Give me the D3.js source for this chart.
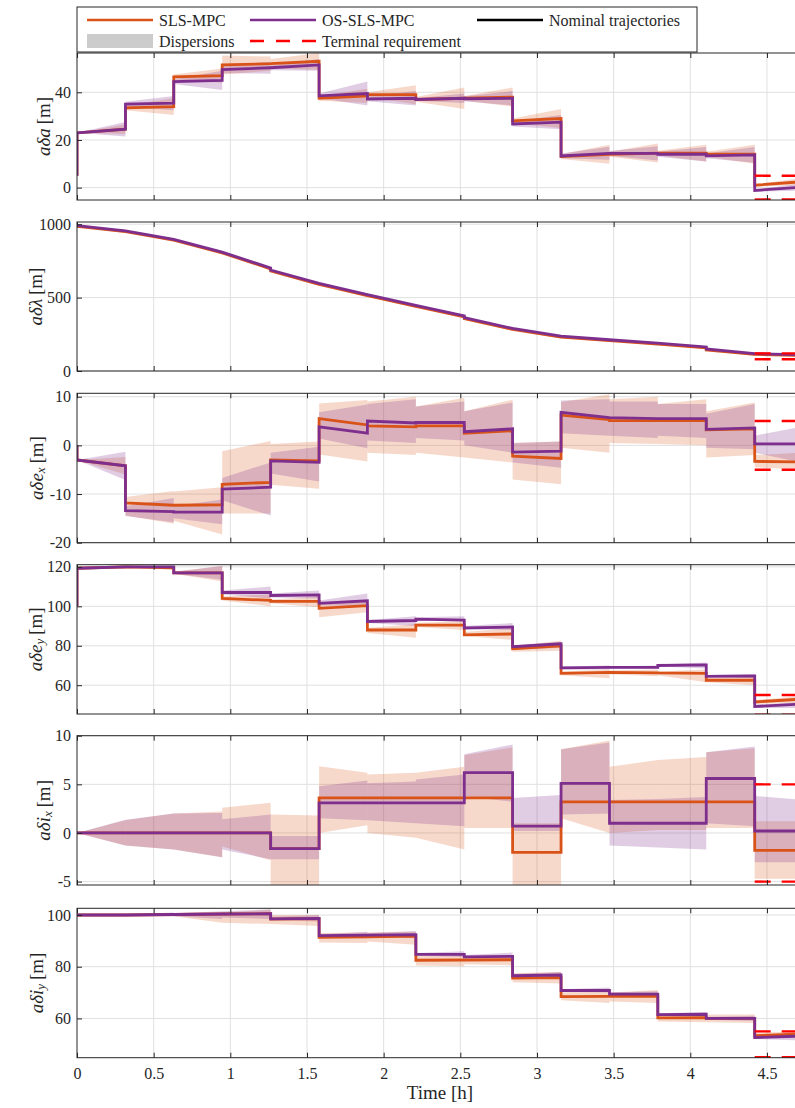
<!DOCTYPE html>
<html>
<head>
<meta charset="utf-8">
<script src="https://cdn.jsdelivr.net/npm/d3@7"></script>
<style>
  body { margin: 0; background: #fff; }
  svg text { font-family: "Liberation Serif", "Times New Roman", serif; fill: #262626; }
</style>
</head>
<body>
<div id="svgRoot"></div>
<script>
// maneuver times [h]
const segT = [0, 0.316, 0.631, 0.947, 1.263, 1.579, 1.894, 2.21, 2.526, 2.841, 3.157, 3.473, 3.788, 4.104, 4.42, 4.735];
const timeTicks = [0, 0.5, 1, 1.5, 2, 2.5, 3, 3.5, 4, 4.5];

// a*delta a  — lines [start, end] per segment, bands [lo0, hi0, lo1, hi1]
const daInit = 5;
const daSls = [[23,24.5],[33.5,34],[46.5,47],[51.5,52],[52,53],[37.5,38.5],[39,39],[37,37.5],[37.5,38],[28,29],[13,14],[14,14.5],[14.5,14.5],[14,14],[1,2.5]];
const daOs  = [[23,24.5],[35,35.5],[44.5,45],[49.5,50.3],[50.3,51.5],[38.5,39.5],[37.2,37.5],[37,37.5],[37.3,37.5],[26.7,27.5],[13.3,14.4],[14.4,14.4],[14,14],[13.3,13.7],[-1.2,0.2]];
const daSlsBand = [[23,23,22.5,26.5],[32.5,34.5,30.5,37.5],[45.5,47.5,44,50],[47.5,55.5,49,55],[50,54,49.5,56.5],[36.5,38.5,35.5,41.5],[38,40,35,43],[36,38,33,42],[36.5,38.5,34,42],[27,29,25,33],[12,14,10,18],[13,15,10.5,18.5],[13.5,15.5,11,18],[13,15,10,18],[0.5,1.5,1,4]];
const daOsBand  = [[23,23,21.5,27.5],[34,36,32.5,38.5],[43.5,45.5,41,49],[48,51,47.8,52.8],[49.3,51.3,49,54],[37.5,39.5,34.5,44.5],[36.2,38.2,34.5,40.5],[36.5,37.5,35.5,39.5],[36.3,38.3,34.5,40.5],[25.7,27.7,24.5,30.5],[12.3,14.3,11.7,17.1],[13.4,15.4,11.4,17.4],[13,15,11,17],[12.3,14.3,10.4,17],[-1.7,-0.7,-1.3,1.7]];

// a*delta lambda
const dlSls = [[986,950],[950,891],[891,804],[804,696],[682,590],[590,513],[513,440],[440,369],[357,283],[283,231],[231,207],[207,184],[184,158],[144,113],[113,106]];
const dlOs  = [[990,955],[955,896],[896,810],[810,702],[688,597],[597,520],[520,447],[447,376],[364,290],[290,238],[238,213],[213,190],[190,164],[150,118],[118,110]];
const dlSlsBand = [[983,989,940,956],[947,953,881,897],[888,894,794,810],[801,807,686,702],[679,685,580,596],[587,593,503,519],[510,516,430,446],[437,443,359,375],[354,360,273,289],[280,286,221,237],[228,234,197,213],[204,210,174,190],[181,187,148,164],[141,147,103,119],[110,116,98,112]];
const dlOsBand  = [[988,992,949,961],[953,957,890,902],[894,898,804,816],[808,812,696,708],[686,690,591,603],[595,599,514,526],[518,522,441,453],[445,449,370,382],[362,366,284,296],[288,292,232,244],[236,240,207,219],[211,215,184,196],[188,192,158,170],[148,152,112,124],[116,120,104,116]];

// a*delta e_x
const dexInit = 0;
const dexSls = [[-3,-4.2],[-11.8,-12.3],[-12.3,-12.2],[-8,-7.6],[-3,-3.2],[5.5,4.2],[4,3.8],[4,4],[2.5,3],[-2.2,-2.7],[6.2,5.3],[5.1,5.1],[5.1,5.1],[3.2,3.4],[-3.3,-3.4]];
const dexOs  = [[-3,-4.2],[-13.4,-13.6],[-13.7,-13.7],[-9,-8.6],[-3.2,-3.5],[3.8,2.5],[5,4.6],[4.7,4.7],[2.8,3.4],[-1.4,-1.2],[6.8,5.7],[5.7,5.5],[5.5,5.5],[3.3,3.6],[0.3,0.3]];
const dexSlsBand = [[-3,-3,-6,-2.4],[-14.4,-10.6,-16.1,-9.4],[-15.5,-9.5,-18.3,-8.6],[-14,-1.2,-14,0.9],[-8.1,0.3,-8.9,0.8],[-1.9,8.6,-3.3,9.3],[-1.5,9,-2,10],[-1.5,8,-2.5,9.8],[-2.5,7,-3.5,9.4],[-7,0.5,-8,0.8],[-0.5,8.9,-1.5,10.5],[0.5,9.5,0.3,10],[0.3,8.5,0,9.5],[-2.5,7,-2,8.8],[-4.5,-2,-5,-1.5]];
const dexOsBand  = [[-3,-3,-7.1,-1.3],[-14.5,-12.5,-15.8,-10.8],[-15,-12.5,-16.2,-11.1],[-11.3,-6.7,-14.4,-3.5],[-5.8,-1.5,-7.4,-0.3],[1.4,6.8,-0.6,8.4],[1,8.5,0.5,9.5],[1.5,8,1,9],[0,7,-1.5,8.8],[-3.5,0.5,-4.6,0.8],[2.5,9.2,2,9.5],[2,9,1.5,9],[2,8.5,1.5,8.5],[-0.5,6.5,-0.8,8.5],[-1.5,2,-3.6,3.9]];

// a*delta e_y
const deyInit = 100;
const deySls = [[119.3,120],[120,119.5],[117,117],[104,103],[102.5,102.5],[99,100.3],[88,88],[90.5,90.5],[85.5,86],[78.5,80],[66,66.5],[66.5,66.3],[66.2,66],[62.5,62.5],[51.5,53]];
const deyOs  = [[119.3,120],[120,120],[117,117],[107,107],[105.5,105.8],[101.5,102.8],[92.3,92.8],[93.5,93],[89,89.5],[79.5,81],[68.8,69],[69,69],[70,70.3],[64.5,64.7],[49.2,50.5]];
const deySlsBand = [[119,119.6,119.3,120.5],[119.5,120.3,118.5,120.5],[116.5,117.5,112.6,120.5],[103,105,100,106],[101.5,103.5,99.5,105],[94.5,101,97,103],[86.5,89,84,91],[89.5,91.5,88,92.5],[85,87,83,89],[77,80,77.5,82.5],[65,67,63.5,68],[65.5,67.5,64.5,68],[65,67,61.5,68],[61.5,63.5,60,64.5],[50.5,52.5,51,54.5]];
const deyOsBand  = [[119,119.6,119.3,120.5],[119.7,120.3,119,120.7],[116.5,117.5,113.5,120.5],[106,108,104,110],[104.5,106.5,104,108],[100.5,103,100,106.5],[91.5,93,90,95],[92.5,94.5,92.5,95],[88.5,90,88,91.5],[78,80,79,82],[68,69.5,68,70],[68.5,69.5,68.5,70],[69.5,70.5,68.5,71.5],[64,65.2,63.5,65.5],[48.5,50,48.5,51.5]];

// a*delta i_x
const dixSls = [[0,0],[0,0],[0,0],[0,0],[-1.6,-1.6],[3.6,3.6],[3.6,3.6],[3.6,3.6],[3.6,3.6],[-2,-2],[3.2,3.2],[3.2,3.2],[3.2,3.2],[3.2,3.2],[-1.8,-1.8]];
const dixOs  = [[0,0],[0,0],[0,0],[0,0],[-1.6,-1.6],[3.1,3.1],[3.1,3.1],[3.1,3.1],[6.2,6.2],[0.7,0.7],[5.1,5.1],[1,1],[1,1],[5.6,5.6],[0.2,0.2]];
const dixSlsBand = [[0,0,-1.3,1.3],[-1.3,1.3,-1.7,2],[-1.7,2,-2.5,2.2],[-1.4,2.6,-2.8,3.1],[-5.5,1.9,-5.5,1.8],[0,6.85,0.8,6.2],[0,6,-0.5,6.2],[-0.5,6.2,-1.7,6.8],[0.5,8,0.5,8.8],[-5.5,1,-5.5,1],[1.5,8.6,0,9.5],[0,6.8,0.3,7.5],[0.3,7.5,0.3,7.8],[0.5,8.3,0.5,8.7],[-4.7,1.2,-4.7,1.2]];
const dixOsBand  = [[0,0,-1.3,1.37],[-1.3,1.37,-1.7,2],[-1.7,2,-2.5,2.05],[-1.7,1.4,-2.7,1.9],[-2.7,-0.3,-2.7,-0.3],[1.5,4.8,1.3,5.4],[1.3,5.1,1,5.3],[1,5.5,0.7,6],[3.8,8.1,3.2,9.1],[0.2,3.6,0.2,3.9],[1.9,8.6,2,9.3],[-1.3,3.4,-1.5,3.5],[-1.5,3.5,-1.7,3.7],[1,8.3,0.7,8.9],[-3,3.8,-3,3.4]];

// a*delta i_y
const diySls = [[100,100],[100,100.2],[100.2,100.4],[100.4,100.5],[98.4,98.6],[91.4,91.6],[91.6,91.8],[82.5,82.6],[82.6,82.7],[75.6,75.8],[68.4,68.5],[68.5,68.6],[60.2,60.3],[60,60],[53.3,54]];
const diyOs  = [[100,100],[100,100.2],[100.2,100.4],[100.4,100.5],[98.5,98.7],[92,92.2],[92.2,92.4],[84.8,84.8],[83.8,84],[76.5,76.8],[70.8,70.8],[69.4,69.4],[61.5,61.6],[60,60],[52.6,53.2]];
const diySlsBand = [[100,100,99.8,100.2],[99.8,100.2,99.5,100.5],[99.5,100.6,97,100.8],[97,101,96.5,102],[96.5,100,95.8,100],[89.4,93,89.2,93.2],[89.8,93.2,88.5,93.5],[80.5,84.2,80.2,84.5],[81,84,80.5,84.5],[74,77.5,73.5,78],[67,70,66,71],[66.5,70,66,71],[58.8,61.8,58.5,62],[58.5,61.5,58.2,61.5],[52.5,54.5,52.8,55]];
const diyOsBand  = [[100,100,99.8,100.2],[99.8,100.2,99.5,101],[99.5,100.7,98.5,101.5],[99,101.5,98.5,102.2],[98,99.3,97.5,100],[91.5,92.6,91,93.5],[91.5,93,91,93.8],[84.2,85.3,83.8,86],[83.3,84.5,83,85.5],[76,77.2,75.5,78],[70.3,71.3,70,72],[69,70,68.5,70.5],[61,62,60.5,62.5],[59.5,60.5,59,61],[52,53.2,51.5,54]];

// y tick labels and terminal requirement bounds
const daTicks = [0, 20, 40], dlTicks = [0, 500, 1000], dexTicks = [-20, -10, 0, 10];
const deyTicks = [60, 80, 100, 120], dixTicks = [-5, 0, 5, 10], diyTicks = [60, 80, 100];
const daReq = [-5, 5], dlReq = [80, 120], dexReq = [-5, 5], deyReq = [45, 55], dixReq = [-5, 5], diyReq = [45, 55];

const SLS_COLOR = "#D95319", OS_COLOR = "#7E2F8E";

const panels = [
  { lab: ["a","δ","a"], sub: null, init: daInit, sls: daSls, os: daOs, slsBand: daSlsBand, osBand: daOsBand, ticks: daTicks, req: daReq,
    dom: [-5.2, 56.5], top: 53, bottom: 200, labX: 43 },
  { lab: ["a","δ","λ"], sub: null, init: null, sls: dlSls, os: dlOs, slsBand: dlSlsBand, osBand: dlOsBand, ticks: dlTicks, req: dlReq,
    dom: [0, 1015], top: 222, bottom: 371, labX: 35 },
  { lab: ["a","δ","e"], sub: "x", init: dexInit, sls: dexSls, os: dexOs, slsBand: dexSlsBand, osBand: dexOsBand, ticks: dexTicks, req: dexReq,
    dom: [-20, 10.7], top: 393.3, bottom: 542.7, labX: 36 },
  { lab: ["a","δ","e"], sub: "y", init: deyInit, sls: deySls, os: deyOs, slsBand: deySlsBand, osBand: deyOsBand, ticks: deyTicks, req: deyReq,
    dom: [45.4, 121.1], top: 564.7, bottom: 714, labX: 35 },
  { lab: ["a","δ","i"], sub: "x", init: null, sls: dixSls, os: dixOs, slsBand: dixSlsBand, osBand: dixOsBand, ticks: dixTicks, req: dixReq,
    dom: [-5.35, 10], top: 735.7, bottom: 885, labX: 43 },
  { lab: ["a","δ","i"], sub: "y", init: null, sls: diySls, os: diyOs, slsBand: diySlsBand, osBand: diyOsBand, ticks: diyTicks, req: diyReq,
    dom: [44.8, 102.6], top: 908.3, bottom: 1057.7, labX: 36 }
];

const W = 795, H = 1108;
const svg = d3.select("#svgRoot").append("svg").attr("width", W).attr("height", H);

const x = d3.scaleLinear().domain([0, 4.735]).range([77, 803]);

function linePoints(init, segs) {
  const pts = [];
  if (init !== null) pts.push([0, init]);
  segs.forEach((s, i) => {
    pts.push([segT[i], s[0]]);
    pts.push([segT[i + 1], s[1]]);
  });
  return pts;
}

panels.forEach((p, pi) => {
  const y = d3.scaleLinear().domain(p.dom).range([p.bottom, p.top]);
  const g = svg.append("g");

  g.append("clipPath").attr("id", "clip" + pi)
    .append("rect")
    .attr("x", x(0)).attr("y", p.top)
    .attr("width", x(4.735) - x(0)).attr("height", p.bottom - p.top);

  // grid
  g.append("g").selectAll("line").data(timeTicks.slice(1)).enter().append("line")
    .attr("x1", d => x(d)).attr("x2", d => x(d))
    .attr("y1", p.top).attr("y2", p.bottom)
    .attr("stroke", "#e0e0e0").attr("stroke-width", 1);
  g.append("g").selectAll("line").data(p.ticks).enter().append("line")
    .attr("x1", x(0)).attr("x2", x(4.735))
    .attr("y1", d => y(d)).attr("y2", d => y(d))
    .attr("stroke", "#e0e0e0").attr("stroke-width", 1);

  const plot = g.append("g").attr("clip-path", "url(#clip" + pi + ")");

  const bandPath = (b, i) => {
    const t0 = segT[i], t1 = segT[i + 1];
    return "M" + [[t0, b[0]], [t1, b[2]], [t1, b[3]], [t0, b[1]]]
      .map(q => x(q[0]) + "," + y(q[1])).join("L") + "Z";
  };

  // dispersions
  plot.append("g").selectAll("path").data(p.slsBand).enter().append("path")
    .attr("d", bandPath).attr("fill", SLS_COLOR).attr("fill-opacity", 0.22);
  plot.append("g").selectAll("path").data(p.osBand).enter().append("path")
    .attr("d", bandPath).attr("fill", OS_COLOR).attr("fill-opacity", 0.24);

  const line = d3.line().x(d => x(d[0])).y(d => y(d[1]));

  plot.append("path").attr("d", line(linePoints(p.init, p.sls)))
    .attr("fill", "none").attr("stroke", SLS_COLOR).attr("stroke-width", 2.8);
  plot.append("path").attr("d", line(linePoints(p.init, p.os)))
    .attr("fill", "none").attr("stroke", OS_COLOR).attr("stroke-width", 2.8);

  // terminal requirement
  plot.append("g").selectAll("line").data(p.req).enter().append("line")
    .attr("x1", x(segT[14])).attr("x2", x(4.735))
    .attr("y1", d => y(d)).attr("y2", d => y(d))
    .attr("stroke", "#ff0000").attr("stroke-width", 2.4)
    .attr("stroke-dasharray", "16,11");

  // axes
  const yAxis = d3.axisLeft(y).tickValues(p.ticks).tickSize(-5).tickSizeOuter(0).tickPadding(6)
    .tickFormat(d => String(d));
  const ya = g.append("g").attr("transform", "translate(" + x(0) + ",0)").call(yAxis);
  const xb = g.append("g").attr("transform", "translate(0," + p.bottom + ")")
    .call(d3.axisBottom(x).tickValues(timeTicks).tickSize(-5).tickSizeOuter(0).tickPadding(10)
      .tickFormat(pi === panels.length - 1 ? d => String(d) : ""));
  const xt = g.append("g").attr("transform", "translate(0," + p.top + ")")
    .call(d3.axisTop(x).tickValues(timeTicks).tickSize(-5).tickSizeOuter(0).tickFormat(""));
  [ya, xb, xt].forEach(a => {
    a.select(".domain").remove();
    a.selectAll(".tick line").attr("stroke", "#262626");
    a.selectAll("text").attr("font-size", 16).attr("fill", "#262626")
      .style("font-family", "'Liberation Serif', serif");
  });

  g.append("rect")
    .attr("x", x(0)).attr("y", p.top)
    .attr("width", x(4.735) - x(0)).attr("height", p.bottom - p.top)
    .attr("fill", "none").attr("stroke", "#262626").attr("stroke-width", 1);

  // y label
  const cy = (p.top + p.bottom) / 2;
  const lt = g.append("text")
    .attr("transform", "translate(" + p.labX + "," + cy + ") rotate(-90)")
    .attr("text-anchor", "middle").attr("dominant-baseline", "central")
    .attr("font-size", 19);
  p.lab.forEach(ch => lt.append("tspan").attr("font-style", "italic").text(ch));
  if (p.sub) {
    lt.append("tspan").attr("font-style", "italic").attr("font-size", 13).attr("dy", 4).text(p.sub);
    lt.append("tspan").attr("dy", -4).text("\u2009[m]");
  } else {
    lt.append("tspan").text("\u2009[m]");
  }
});

svg.append("text").attr("x", 440).attr("y", 1099).attr("text-anchor", "middle")
  .attr("font-size", 19).text("Time [h]");

// legend
const leg = svg.append("g");
leg.append("rect").attr("x", 77).attr("y", 7).attr("width", 620).attr("height", 45)
  .attr("fill", "#fff").attr("stroke", "#262626").attr("stroke-width", 1);
const legItems = [
  { x: 87, y: 20, type: "line", color: SLS_COLOR, text: "SLS-MPC" },
  { x: 250, y: 20, type: "line", color: OS_COLOR, text: "OS-SLS-MPC" },
  { x: 477, y: 20, type: "line", color: "#000", text: "Nominal trajectories" },
  { x: 87, y: 41, type: "patch", color: "#cccccc", text: "Dispersions" },
  { x: 250, y: 41, type: "dash", color: "#ff0000", text: "Terminal requirement" }
];
legItems.forEach(it => {
  if (it.type === "patch") {
    leg.append("rect").attr("x", it.x).attr("y", it.y - 7).attr("width", 66).attr("height", 14)
      .attr("fill", it.color);
  } else {
    leg.append("line").attr("x1", it.x).attr("x2", it.x + 66).attr("y1", it.y).attr("y2", it.y)
      .attr("stroke", it.color).attr("stroke-width", 2.6)
      .attr("stroke-dasharray", it.type === "dash" ? "14,12" : null);
  }
  leg.append("text").attr("x", it.x + 72).attr("y", it.y + 5.5).attr("font-size", 16).text(it.text);
});
</script>
</body>
</html>
